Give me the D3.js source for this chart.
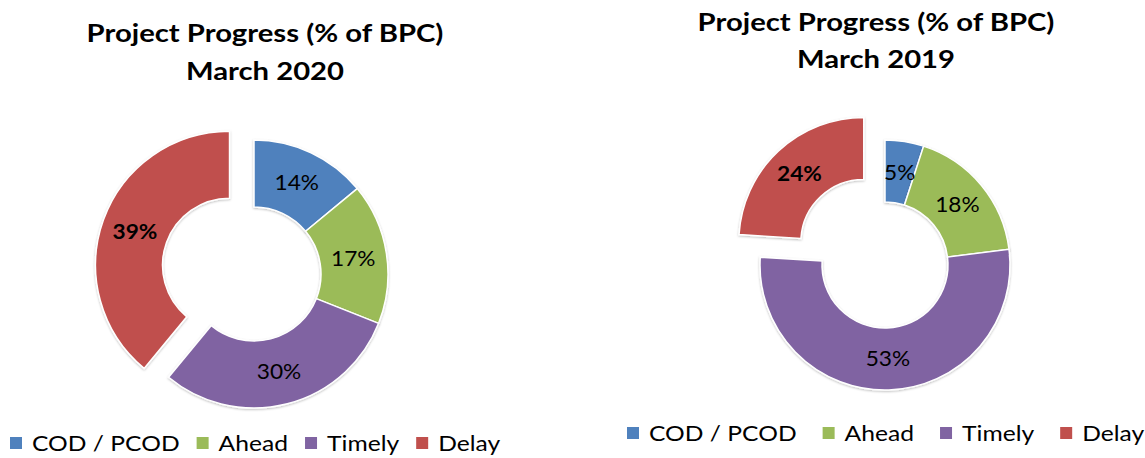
<!DOCTYPE html>
<html>
<head>
<meta charset="utf-8">
<script src="https://cdn.jsdelivr.net/npm/d3@7"></script>
<style>
  html, body { margin: 0; padding: 0; background: #fff; }
  svg { display: block; font-family: Lato, "Noto Sans", sans-serif; }
</style>
</head>
<body>
<svg id="chart" width="1145" height="458"></svg>
<script>
// ---- data ----
const categories = ['COD / PCOD', 'Ahead', 'Timely', 'Delay'];
const colors = ['#4F81BD', '#9BBB59', '#8064A2', '#C0504D'];
const values2020 = [14, 17, 30, 39];
const values2019 = [5, 18, 53, 24];
const titles2020 = ['Project Progress (% of BPC)', 'March 2020'];
const titles2019 = ['Project Progress (% of BPC)', 'March 2019'];

// the source picture is a little stretched sideways, text follows that
const TITLE_SX = 1.17;
const LEGEND_SX = 1.12;
const LABEL_SX = 1.08;

const svg = d3.select('#chart');

// soft shadow like the office chart
const defs = svg.append('defs');
const f = defs.append('filter').attr('id', 'soft').attr('x', '-10%').attr('y', '-10%').attr('width', '120%').attr('height', '120%');
f.append('feDropShadow').attr('dx', 0).attr('dy', 1).attr('stdDeviation', 1.2).attr('flood-color', '#000').attr('flood-opacity', 0.25);

function donut(opts) {
    const g = svg.append('g');

    // titles
    g.selectAll('text.title')
        .data(opts.titles)
        .join('text')
        .attr('class', 'title')
        .attr('transform', (d, i) => `translate(${opts.titleX},${opts.titleY + i * opts.titleGap}) scale(${TITLE_SX},1)`)
        .attr('text-anchor', 'middle')
        .attr('font-size', 25)
        .attr('font-weight', 700)
        .attr('fill', '#000')
        .text(d => d);

    const data = categories.map((c, i) => ({ name: c, value: opts.values[i], color: colors[i], explode: i === 3 }));
    const pie = d3.pie().sort(null).value(d => d.value);
    const arc = d3.arc().innerRadius(opts.r0).outerRadius(opts.r1);
    const arcs = pie(data);

    const offset = d => {
        if (!d.data.explode) return [0, 0];
        const a = (d.startAngle + d.endAngle) / 2;
        return [Math.sin(a) * opts.explode, -Math.cos(a) * opts.explode];
    };

    const pg = g.append('g').attr('transform', `translate(${opts.cx},${opts.cy})`);
    pg.selectAll('path')
        .data(arcs)
        .join('path')
        .attr('transform', d => `translate(${offset(d)})`)
        .attr('d', arc)
        .attr('fill', d => d.data.color)
        .attr('stroke', '#fff')
        .attr('stroke-width', 1.5)
        .attr('filter', 'url(#soft)');

    pg.selectAll('text')
        .data(arcs)
        .join('text')
        .attr('transform', d => {
            const c = arc.centroid(d), o = offset(d);
            return `translate(${c[0] + o[0]},${c[1] + o[1]}) scale(${LABEL_SX},1)`;
        })
        .attr('text-anchor', 'middle')
        .attr('dy', '0.35em')
        .attr('font-size', 21)
        .attr('font-weight', d => d.data.explode ? 700 : 400)
        .attr('fill', '#000')
        .text(d => d.data.value + '%');

    // legend
    const lg = g.append('g').attr('transform', `translate(${opts.legendX},${opts.legendY})`);
    let x = 0;
    data.forEach(d => {
        lg.append('rect')
            .attr('x', x).attr('y', -6)
            .attr('width', 12).attr('height', 12)
            .attr('fill', d.color);
        const t = lg.append('text')
            .attr('transform', `translate(${x + 22},0) scale(${LEGEND_SX},1)`)
            .attr('dy', '0.35em')
            .attr('font-size', 22)
            .attr('fill', '#000')
            .text(d.name);
        x += 22 + t.node().getComputedTextLength() * LEGEND_SX + opts.legendGap;
    });
}

donut({
    titles: titles2020, titleX: 265, titleY: 42, titleGap: 38,
    values: values2020, cx: 254, cy: 274, r0: 67, r1: 134, explode: 26,
    legendX: 10, legendY: 443, legendGap: 17
});

donut({
    titles: titles2019, titleX: 876, titleY: 31, titleGap: 37,
    values: values2019, cx: 885, cy: 265, r0: 63, r1: 125, explode: 31,
    legendX: 627, legendY: 433, legendGap: 26
});
</script>
</body>
</html>
